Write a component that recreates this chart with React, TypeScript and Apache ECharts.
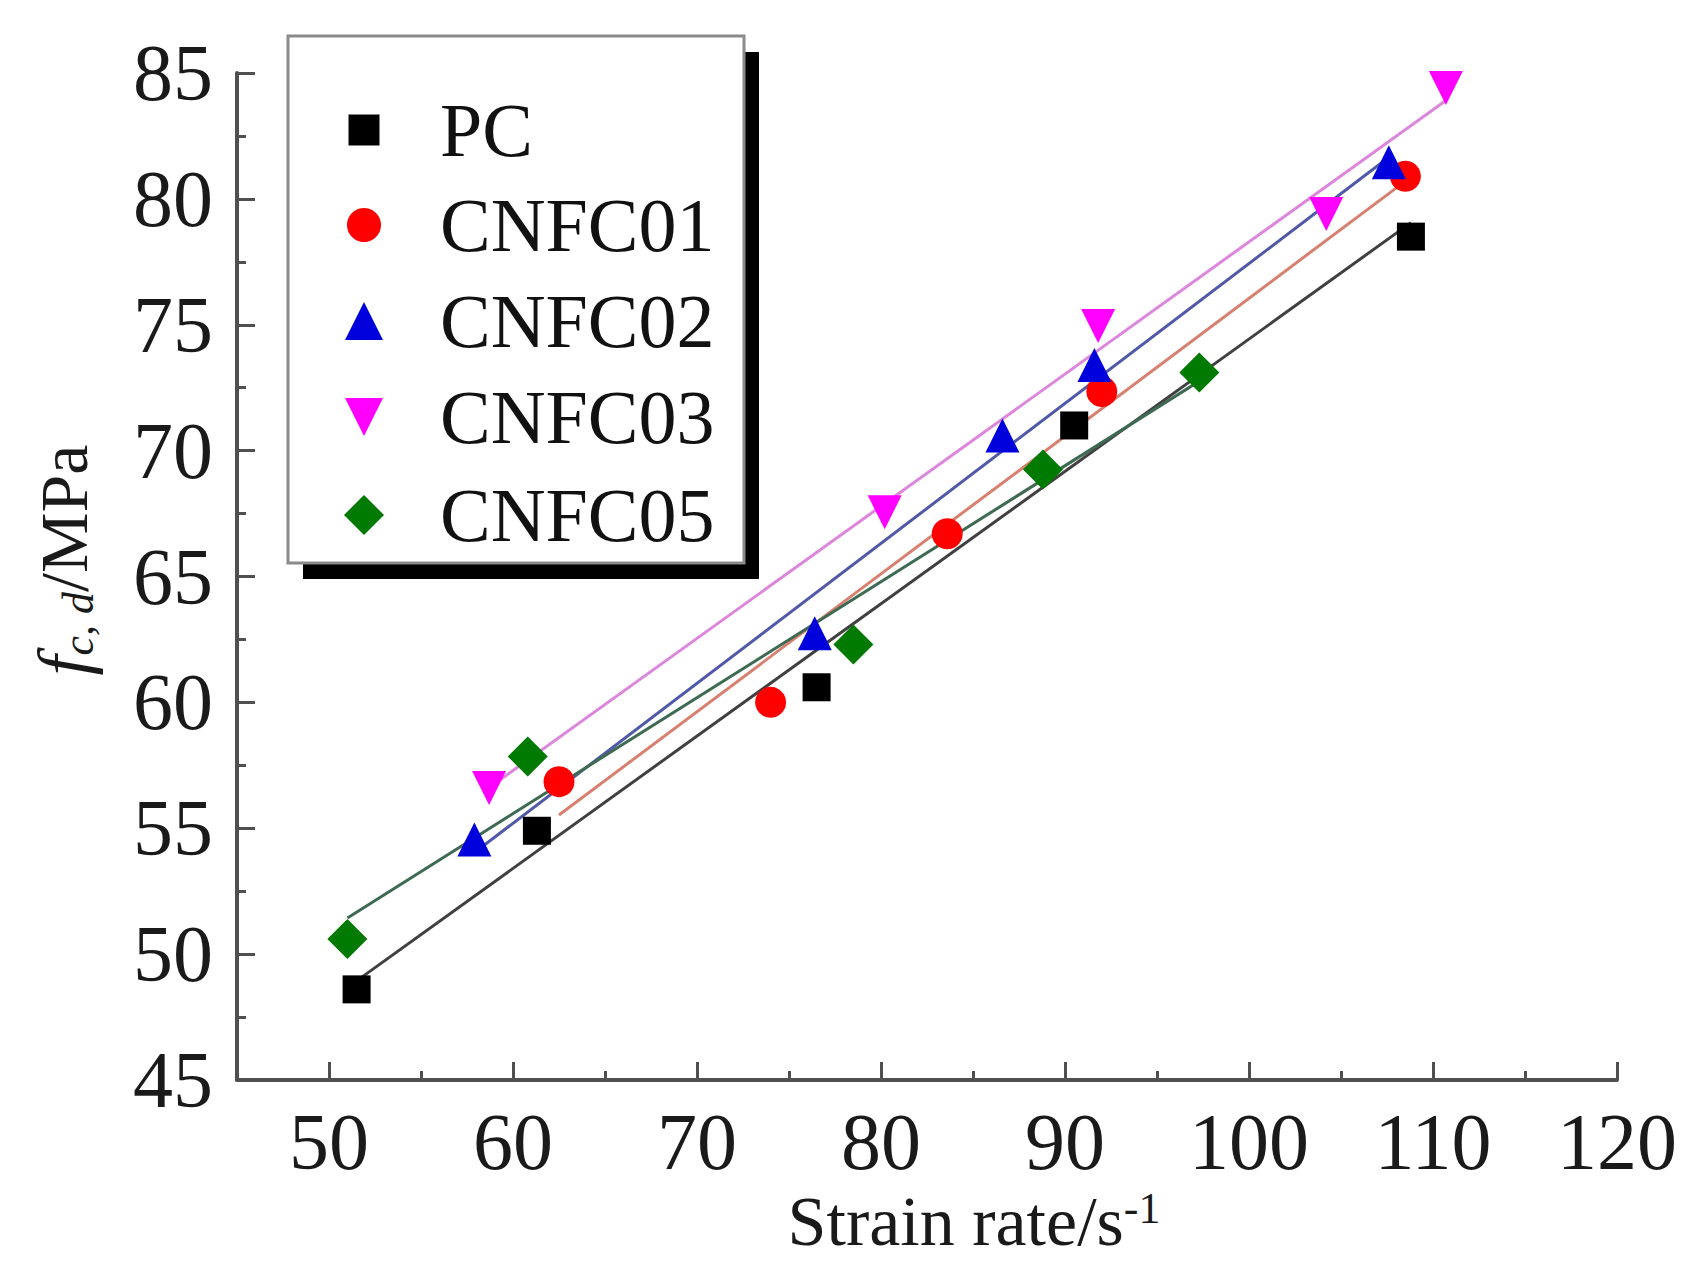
import React, { useEffect, useRef } from "react";
import * as echarts from "echarts";

const seriesNames = ["PC", "CNFC01", "CNFC02", "CNFC03", "CNFC05"];

const pcX = [51.5, 61.3, 76.5, 90.5, 108.8];
const pcY = [48.6, 54.9, 60.6, 71.0, 78.5];
const c01X = [62.5, 74.0, 83.6, 92.0, 108.5];
const c01Y = [56.85, 60.0, 66.7, 72.35, 80.9];
const c02X = [57.9, 76.4, 86.6, 91.6, 107.6];
const c02Y = [54.55, 62.75, 70.6, 73.4, 81.45];
const c03X = [58.7, 80.2, 91.8, 104.2, 110.7];
const c03Y = [56.6, 67.55, 74.95, 79.4, 84.4];
const c05X = [51.0, 60.8, 78.5, 88.8, 97.3];
const c05Y = [50.6, 57.85, 62.3, 69.25, 73.1];

const FONT = "Liberation Serif";

const markerColors = ["#000000", "#ff0000", "#0000dd", "#ff00ff", "#007a00"];
const lineColors = ["#404040", "#d8806f", "#5058a8", "#dc86dc", "#3e6a52"];
const symbols = ["rect", "circle", "triangle", "path://M0,0L10,0L5,10Z", "diamond"];
const symbolSizes = [28, 31, 34, 34, 40];
const legendIconSizes = [31, 34, 38, 38, 40];
const legendRowCenters = [130, 225, 321, 417, 515];

function pairs(xs: number[], ys: number[]) {
  return xs.map((x, i) => [x, ys[i]]);
}

function fitLine(xs: number[], ys: number[]) {
  const n = xs.length;
  const mx = xs.reduce((a, b) => a + b, 0) / n;
  const my = ys.reduce((a, b) => a + b, 0) / n;
  let sxy = 0;
  let sxx = 0;
  for (let i = 0; i < n; i++) {
    sxy += (xs[i] - mx) * (ys[i] - my);
    sxx += (xs[i] - mx) * (xs[i] - mx);
  }
  const b = sxy / sxx;
  const a = my - b * mx;
  const x0 = Math.min(...xs);
  const x1 = Math.max(...xs);
  return [
    [x0, a + b * x0],
    [x1, a + b * x1],
  ];
}

export default function App() {
  const ref = useRef<HTMLDivElement>(null);

  useEffect(() => {
    document.body.style.margin = "0";
    if (!ref.current) return;
    const chart = echarts.init(ref.current, undefined, { renderer: "svg" });

    const xsAll = [pcX, c01X, c02X, c03X, c05X];
    const ysAll = [pcY, c01Y, c02Y, c03Y, c05Y];

    const lineSeries = seriesNames.map((name, i) => ({
      name: name + " fit",
      type: "line",
      data: fitLine(xsAll[i], ysAll[i]),
      showSymbol: false,
      symbol: "none",
      silent: true,
      z: 2,
      lineStyle: { color: lineColors[i], width: 3 },
    }));

    const scatterSeries = seriesNames.map((name, i) => ({
      name,
      type: "scatter",
      data: pairs(xsAll[i], ysAll[i]),
      symbol: symbols[i],
      symbolSize: symbolSizes[i],
      z: 5,
      itemStyle: { color: markerColors[i], opacity: 1 },
    }));

    const iconCenterX = 364;
    const textStartX = 440;
    const legends = seriesNames.map((name, i) => {
      const s = legendIconSizes[i];
      const left = iconCenterX - s / 2;
      return {
        data: [name],
        orient: "vertical",
        left,
        top: legendRowCenters[i] - 38,
        padding: 0,
        itemGap: 0,
        itemWidth: s,
        itemHeight: s,
        selectedMode: false,
        z: 10,
        textStyle: {
          fontFamily: FONT,
          fontSize: 76,
          lineHeight: 76,
          color: "#111111",
          padding: [0, 0, 0, textStartX - (left + s + 5)],
        },
      };
    });

    const axisColor = "#505050";
    const gridLeft = 237;
    const gridRight = 69;
    const pxPerUnit = (1686 - gridLeft - gridRight) / 75;

    chart.setOption({
      animation: false,
      backgroundColor: "#ffffff",
      grid: [
        { left: gridLeft, right: gridRight, top: 73, bottom: 202, containLabel: false },
        { left: gridLeft + 5 * pxPerUnit, right: gridRight, top: 73, bottom: 202, containLabel: false },
      ],
      xAxis: [
        {
          type: "value",
          gridIndex: 0,
          position: "bottom",
          min: 45,
          max: 120,
          interval: 5,
          splitLine: { show: false },
          axisLine: { show: true, lineStyle: { color: axisColor, width: 4 } },
          axisTick: { show: true, inside: true, length: 9, lineStyle: { color: axisColor, width: 3 } },
          axisLabel: {
            fontFamily: FONT,
            fontSize: 80,
            color: "#1a1a1a",
            margin: 22,
            formatter: (v: number) => (v % 10 === 0 ? String(v) : ""),
          },
          name: "Strain rate/s{sup|-1}",
          nameLocation: "middle",
          nameGap: 105,
          nameTextStyle: {
            fontFamily: FONT,
            fontSize: 70,
            color: "#1a1a1a",
            padding: [0, 0, 0, 94],
            rich: {
              sup: { fontFamily: FONT, fontSize: 44, color: "#1a1a1a", verticalAlign: "top" },
            },
          },
        },
        {
          type: "value",
          gridIndex: 1,
          position: "bottom",
          min: 50,
          max: 120,
          interval: 10,
          splitLine: { show: false },
          axisLine: { show: false },
          axisLabel: { show: false },
          axisTick: { show: true, inside: true, length: 18, lineStyle: { color: axisColor, width: 3 } },
        },
      ],
      yAxis: [
        {
          type: "value",
          gridIndex: 0,
          min: 45,
          max: 85,
          interval: 5,
          splitLine: { show: false },
          axisLine: { show: true, lineStyle: { color: axisColor, width: 4 } },
          axisTick: { show: true, inside: true, length: 18, lineStyle: { color: axisColor, width: 3 } },
          minorTick: { show: true, splitNumber: 2, length: 9, lineStyle: { color: axisColor, width: 3 } },
          minorSplitLine: { show: false },
          axisLabel: { fontFamily: FONT, fontSize: 80, color: "#1a1a1a", margin: 24 },
        },
        {
          type: "value",
          gridIndex: 1,
          min: 45,
          max: 85,
          show: false,
        },
      ],
      legend: legends,
      graphic: [
        {
          type: "rect",
          z: 1,
          shape: { x: 303, y: 52, width: 456, height: 527 },
          style: { fill: "#000000" },
        },
        {
          type: "rect",
          z: 1,
          shape: { x: 288, y: 36, width: 456, height: 527 },
          style: { fill: "#ffffff", stroke: "#8a8a8a", lineWidth: 3 },
        },
        {
          type: "text",
          z: 1,
          x: 64,
          y: 560,
          rotation: Math.PI / 2,
          style: {
            text: "{f|f}{s|c, d}{n|/MPa}",
            align: "center",
            verticalAlign: "middle",
            fill: "#1a1a1a",
            rich: {
              f: { fontFamily: FONT, fontSize: 72, fontStyle: "italic", fill: "#1a1a1a" },
              s: { fontFamily: FONT, fontSize: 44, fontStyle: "italic", fill: "#1a1a1a", verticalAlign: "bottom" },
              n: { fontFamily: FONT, fontSize: 68, fill: "#1a1a1a" },
            },
          },
        },
      ],
      series: [...lineSeries, ...scatterSeries],
    });

    return () => {
      chart.dispose();
    };
  }, []);

  return <div ref={ref} style={{ width: 1686, height: 1282 }} />;
}
